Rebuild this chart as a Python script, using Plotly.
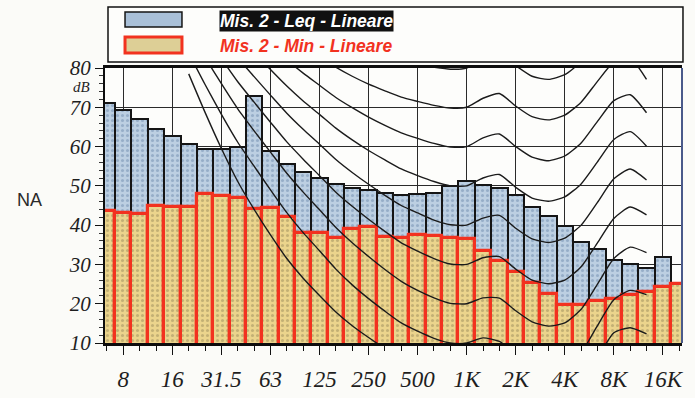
import plotly.graph_objects as go

# Third-octave band centres, 6.3 Hz .. 20 kHz
bands = ["6.3", "8", "10", "12.5", "16", "20", "25", "31.5", "40", "50", "63", "80",
         "100", "125", "160", "200", "250", "315", "400", "500", "630", "800",
         "1K", "1.25K", "1.6K", "2K", "2.5K", "3.15K", "4K", "5K", "6.3K", "8K",
         "10K", "12.5K", "16K", "20K"]

# Mis. 2 - Leq - Lineare (dB)
leq = [71.1, 69.3, 67.1, 64.6, 62.6, 60.6, 59.4, 59.5, 60.0, 72.9, 58.9, 55.6,
       53.6, 52.0, 50.5, 49.5, 49.0, 48.3, 47.7, 48.0, 48.1, 49.9, 51.3, 50.3,
       49.4, 47.8, 44.7, 42.3, 39.8, 35.8, 34.0, 31.2, 30.0, 29.0, 31.8, 25.2]

# Mis. 2 - Min - Lineare (dB)
lmin = [43.5, 43.1, 42.8, 44.8, 44.7, 44.6, 47.9, 47.4, 47.0, 44.2, 44.3, 42.0,
        37.9, 37.9, 36.8, 39.1, 39.6, 37.1, 36.8, 37.5, 37.2, 36.7, 36.4, 33.5,
        30.8, 28.2, 25.3, 22.6, 19.8, 19.6, 20.6, 21.2, 22.3, 23.0, 24.2, 25.0]

tick_labels = ["8", "16", "31.5", "63", "125", "250", "500", "1K", "2K", "4K", "8K", "16K"]
y_ticks = [10, 20, 30, 40, 50, 60, 70, 80]

# Equal-loudness contours, 20 Hz .. 12.5 kHz (dB)
contour_bands = bands[bands.index("20"):bands.index("12.5K") + 1]
loud_thr = [78.5, 68.7, 59.5, 51.1, 44.0, 37.5, 31.5, 26.5, 22.1, 17.9, 14.4, 11.4, 8.6, 6.2, 4.4,
            3.0, 2.2, 2.4, 3.5, 1.7, -1.3, -4.2, -6.0, -5.4, -1.5, 6.0, 12.6, 13.9, 12.3]
loud_10 = [83.8, 75.8, 68.2, 61.1, 55.0, 49.0, 43.2, 38.1, 33.5, 28.8, 24.8, 21.3, 18.1, 15.1, 13.0,
           11.2, 10.0, 10.0, 11.3, 10.4, 7.3, 4.5, 3.0, 3.8, 7.5, 14.4, 21.0, 23.4, 22.3]
loud_20 = [89.6, 82.7, 76.0, 69.6, 64.0, 58.6, 53.2, 48.4, 43.9, 39.4, 35.5, 32.0, 28.7, 25.7, 23.4,
           21.5, 20.1, 20.0, 21.5, 21.4, 18.2, 15.4, 14.3, 15.1, 18.6, 25.0, 31.5, 34.4, 33.0]
loud_30 = [94.9, 88.5, 82.4, 76.5, 71.3, 66.2, 61.2, 56.8, 52.6, 48.4, 44.8, 41.5, 38.4, 35.5, 33.4,
           31.5, 30.1, 30.0, 31.7, 32.0, 28.8, 26.0, 25.1, 26.0, 29.4, 35.5, 41.7, 44.6, 42.6]
loud_40 = [99.9, 93.9, 88.2, 82.6, 77.8, 73.1, 68.5, 64.4, 60.6, 56.7, 53.4, 50.4, 47.6, 45.0, 43.1,
           41.3, 40.1, 40.0, 41.8, 42.5, 39.2, 36.5, 35.6, 36.7, 40.0, 45.8, 51.8, 54.3, 51.5]
loud_50 = [104.7, 99.1, 93.7, 88.5, 84.0, 79.6, 75.4, 71.6, 68.2, 64.7, 61.7, 59.0, 56.6, 54.3, 52.6,
           51.1, 50.0, 50.0, 52.0, 52.9, 49.6, 46.9, 46.1, 47.2, 50.5, 56.1, 61.8, 63.8, 60.1]
loud_60 = [109.5, 104.2, 99.1, 94.2, 90.0, 85.9, 82.1, 78.7, 75.6, 72.5, 69.9, 67.5, 65.4, 63.5, 62.1,
           60.8, 59.9, 60.0, 62.2, 63.2, 60.0, 57.3, 56.4, 57.6, 60.9, 66.4, 71.7, 73.2, 68.6]
loud_70 = [114.3, 109.3, 104.4, 99.8, 95.9, 92.2, 88.6, 85.6, 82.9, 80.2, 77.9, 75.9, 74.2, 72.6, 71.5,
           70.5, 69.8, 70.0, 72.3, 73.5, 70.3, 67.6, 66.8, 68.0, 71.3, 76.6, 81.5, 82.5, 77.1]
loud_80_bands = bands[bands.index("100"):bands.index("6.3K") + 1]
loud_80 = [92.5, 90.1, 87.8, 85.9, 84.3, 82.9, 81.7, 80.9, 80.2, 79.7, 80.0, 82.5, 83.7, 80.6,
           77.9, 77.1, 78.3, 81.6, 86.8]

x_bar = [bands.index(b) for b in bands]
x_contour = [bands.index(b) for b in contour_bands]
x_80 = [bands.index(b) for b in loud_80_bands]

SERIF_IT = dict(family="Liberation Serif", style="italic", color="#1e1e1e")

fig = go.Figure()

fig.add_trace(go.Bar(
    x=x_bar, y=leq, name="Mis. 2 - Leq - Lineare",
    marker=dict(
        color="#b7cbdf",
        line=dict(color="#151515", width=2),
        pattern=dict(shape=".", fgcolor="#6f8cae", bgcolor="#bccfe2", size=5, solidity=0.3),
    ),
))
fig.add_trace(go.Bar(
    x=x_bar, y=lmin, name="Mis. 2 - Min - Lineare",
    marker=dict(
        color="#e8d396",
        line=dict(color="#f2321f", width=3.2),
        pattern=dict(shape=".", fgcolor="#9a8c5c", bgcolor="#ebd48c", size=5, solidity=0.3),
    ),
))

for ys, xs in [(loud_thr, x_contour), (loud_10, x_contour), (loud_20, x_contour),
               (loud_30, x_contour), (loud_40, x_contour), (loud_50, x_contour),
               (loud_60, x_contour), (loud_70, x_contour), (loud_80, x_80)]:
    fig.add_trace(go.Scatter(
        x=xs, y=ys, mode="lines", hoverinfo="skip",
        line=dict(color="#1b1b1b", width=1.4, shape="spline", smoothing=0.6),
    ))

fig.update_layout(
    width=695, height=398,
    margin=dict(l=105, r=13, t=68, b=55),
    barmode="overlay", bargap=0,
    showlegend=False,
    paper_bgcolor="#fbfbf8", plot_bgcolor="#fdfdfb",
)

fig.update_xaxes(
    range=[-0.12, 35.17],
    automargin=False,
    tickmode="array",
    tickvals=[bands.index(t) for t in tick_labels],
    ticktext=tick_labels,
    ticks="outside", ticklen=9, tickwidth=1.2, tickcolor="#111",
    minor=dict(dtick=1, tick0=0, ticks="outside", ticklen=5, tickcolor="#111", showgrid=False),
    ticklabelstandoff=5,
    tickfont=dict(size=23, **SERIF_IT),
    showgrid=True, gridcolor="#2a2a2a", gridwidth=1,
    showline=True, linecolor="#0d0d0d", linewidth=2.5, mirror=True,
    zeroline=False,
)
fig.update_yaxes(
    range=[10, 80],
    automargin=False,
    tickmode="array", tickvals=y_ticks,
    ticks="outside", ticklen=8, tickwidth=1.2, tickcolor="#111",
    minor=dict(dtick=2, tick0=10, ticks="outside", ticklen=4, tickcolor="#333", showgrid=False),
    tickfont=dict(size=21, **SERIF_IT),
    showgrid=True, gridcolor="#2a2a2a", gridwidth=1,
    showline=True, linecolor="#0d0d0d", linewidth=2,
    zeroline=False,
)

# Right-hand frame edge
fig.add_shape(type="line", xref="paper", yref="paper", x0=1, x1=1, y0=0, y1=1,
              line=dict(color="#4a5a8a", width=2))

# Legend box
fig.add_shape(type="rect", xref="paper", yref="paper", x0=0.0052, x1=1.0017, y0=1.0218, y1=1.2218,
              line=dict(color="#111", width=1.5), fillcolor="#fdfdfb")
fig.add_shape(type="rect", xref="paper", yref="paper", x0=0.0347, x1=0.1334, y0=1.149, y1=1.2036,
              line=dict(color="#151515", width=1.5), fillcolor="#a9c0d8")
fig.add_shape(type="rect", xref="paper", yref="paper", x0=0.0347, x1=0.1334, y0=1.0545, y1=1.1127,
              line=dict(color="#f2321f", width=3), fillcolor="#ddcf96")

LEG_FONT = dict(family="Liberation Sans", size=17.5, weight="bold", style="italic")
fig.add_annotation(xref="paper", yref="paper", x=0.3484, y=1.1709, showarrow=False,
                   xanchor="center", yanchor="middle",
                   text="Mis. 2 - Leq - Lineare", bgcolor="#111111", borderpad=0,
                   font=dict(color="#ffffff", **LEG_FONT))
fig.add_annotation(xref="paper", yref="paper", x=0.3484, y=1.08, showarrow=False,
                   xanchor="center", yanchor="middle",
                   text="Mis. 2 - Min - Lineare",
                   font=dict(color="#f2321f", **LEG_FONT))

# Unit label under the top tick
fig.add_annotation(xref="paper", yref="paper", x=-0.04, y=0.931, showarrow=False,
                   xanchor="center", yanchor="middle",
                   text="dB", font=dict(size=15, **SERIF_IT))

fig.add_annotation(xref="paper", yref="paper", x=-0.13, y=0.52, showarrow=False,
                   xanchor="center", yanchor="middle",
                   text="NA", font=dict(family="Liberation Sans", size=18, color="#2a2a2a"))

fig.write_html("out.html")
